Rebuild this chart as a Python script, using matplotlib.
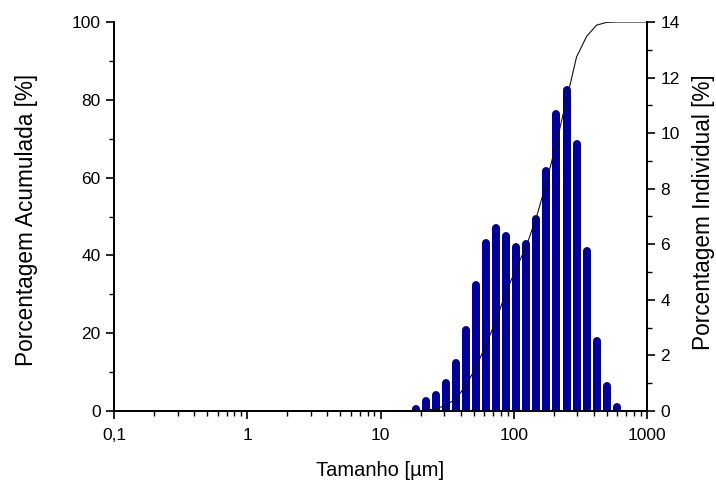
import matplotlib
matplotlib.use("Agg")
import matplotlib.pyplot as plt
from matplotlib.ticker import FixedLocator, FixedFormatter, MultipleLocator, LogLocator, NullFormatter
from matplotlib.transforms import ScaledTranslation

plt.rcParams['font.family'] = ['Liberation Sans', 'DejaVu Sans']

# Particle size classes [µm]
sizes = [18.5, 22.0, 26.2, 31.1, 37.0, 44.0, 52.3, 62.2, 74.0, 88.0, 104.7,
         124.5, 148.0, 176.0, 209.3, 248.9, 296.0, 352.0, 418.6, 497.8, 592.0]
# Individual percentage [%] (right axis)
individual = [0.20, 0.51, 0.73, 1.14, 1.86, 3.06, 4.69, 6.18, 6.72, 6.43, 6.05,
              6.15, 7.05, 8.79, 10.85, 11.69, 9.77, 5.91, 2.67, 1.05, 0.28]
# Cumulative percentage [%] (left axis)
curve_size = [18.5, 22.0, 26.2, 31.1, 37.0, 44.0, 52.3, 62.2, 74.0, 88.0, 104.7,
              124.5, 148.0, 176.0, 209.3, 248.9, 296.0, 352.0, 418.6, 497.8, 592.0, 1000.0]
cumulative = [0.0, 0.2, 0.6, 1.5, 3.2, 6.7, 11.4, 17.2, 23.5, 30.8, 36.7,
              42.5, 49.8, 58.9, 69.0, 80.0, 91.0, 96.3, 99.2, 99.9, 100.0, 100.0]

xticks = [0.1, 1, 10, 100, 1000]
xticklabels = ["0,1", "1", "10", "100", "1000"]

fig = plt.figure(figsize=(7.16, 4.88), dpi=100)
ax1 = fig.add_axes([114/716, 1 - 411/488, (647-114)/716, (411-22)/488])
ax2 = ax1.twinx()
ax1.set_zorder(ax2.get_zorder() + 1)
ax1.patch.set_visible(False)

bar_px = 8.0
r_in = (bar_px / 2) / fig.dpi
trans = ax2.transData + ScaledTranslation(0, -r_in, fig.dpi_scale_trans)
vl = ax2.vlines(sizes, 0, individual, colors='#000099', linewidth=bar_px * 72 / fig.dpi,
                transform=trans)
vl.set_capstyle('round')

ax1.plot(curve_size, cumulative, color='#111111', linewidth=0.8)

ax1.set_xscale('log')
ax1.set_xlim(0.1, 1000)
ax1.set_ylim(0, 100)
ax2.set_ylim(0, 14)

ax1.xaxis.set_major_locator(FixedLocator(xticks))
ax1.xaxis.set_major_formatter(FixedFormatter(xticklabels))
ax1.xaxis.set_minor_locator(LogLocator(base=10, subs=range(2, 10), numticks=20))
ax1.xaxis.set_minor_formatter(NullFormatter())

ax1.yaxis.set_major_locator(MultipleLocator(20))
ax1.yaxis.set_minor_locator(MultipleLocator(10))
ax2.yaxis.set_major_locator(MultipleLocator(2))
ax2.yaxis.set_minor_locator(MultipleLocator(1))

for ax in (ax1, ax2):
    ax.spines['top'].set_visible(False)
    for s in ax.spines.values():
        s.set_linewidth(1.3)
    ax.tick_params(which='major', direction='out', length=6, width=1.2, labelsize=12.5)
    ax.tick_params(which='minor', direction='out', length=3.5, width=1.0)
ax1.tick_params(axis='x', which='major', pad=6)

ax1.set_xlabel("Tamanho [µm]", fontsize=14.5)
ax1.set_ylabel("Porcentagem Acumulada [%]", fontsize=16.3)
ax2.set_ylabel("Porcentagem Individual [%]", fontsize=16.3)
ax1.xaxis.set_label_coords(0.5, -0.128)
ax1.yaxis.set_label_coords(-0.143, 0.491)
ax2.yaxis.set_label_coords(1.084, 0.512)

fig.savefig("out.png", dpi=100)
